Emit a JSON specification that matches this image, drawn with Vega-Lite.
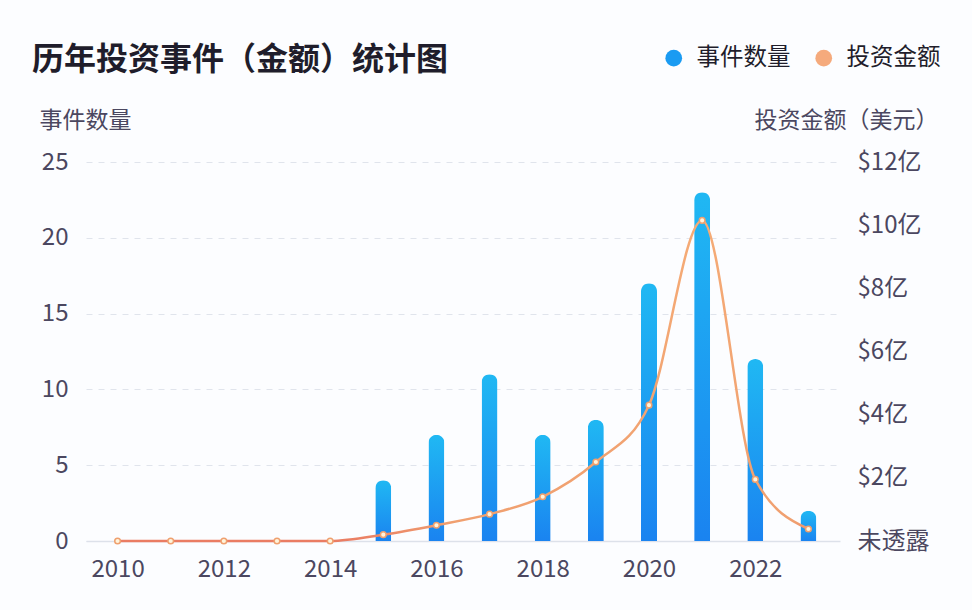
{
  "$schema": "https://vega.github.io/schema/vega-lite/v6.json",
  "width": 754,
  "height": 379,
  "autosize": {"type": "none"},
  "padding": {"left": 86, "top": 162, "right": 132, "bottom": 69},
  "background": "#fcfdff",
  "config": {
    "font": "Noto Sans CJK SC",
    "view": {"stroke": null}
  },
  "title": {
    "text": "历年投资事件（金额）统计图",
    "anchor": "start",
    "frame": "group",
    "dx": -54,
    "offset": -31,
    "fontSize": 32,
    "fontWeight": "bold",
    "color": "#1f1d2b",
    "font": "Noto Sans CJK SC"
  },
  "data": {
    "values": [
      {"year": 2010, "count": 0, "amount": 0},
      {"year": 2011, "count": 0, "amount": 0},
      {"year": 2012, "count": 0, "amount": 0},
      {"year": 2013, "count": 0, "amount": 0},
      {"year": 2014, "count": 0, "amount": 0},
      {"year": 2015, "count": 4, "amount": 0.2},
      {"year": 2016, "count": 7, "amount": 0.5},
      {"year": 2017, "count": 11, "amount": 0.85},
      {"year": 2018, "count": 7, "amount": 1.4},
      {"year": 2019, "count": 8, "amount": 2.5},
      {"year": 2020, "count": 17, "amount": 4.3},
      {"year": 2021, "count": 23, "amount": 10.15},
      {"year": 2022, "count": 12, "amount": 1.95},
      {"year": 2023, "count": 2, "amount": 0.38}
    ]
  },
  "layer": [
    {
      "transform": [{"filter": "datum.count > 0"}],
      "mark": {
        "type": "bar",
        "width": 16,
        "cornerRadiusTopLeft": 8,
        "cornerRadiusTopRight": 8,
        "color": {
          "gradient": "linear",
          "x1": 0, "y1": 0, "x2": 0, "y2": 1,
          "stops": [
            {"offset": 0, "color": "#20b8f3"},
            {"offset": 1, "color": "#1a83f0"}
          ]
        }
      },
      "encoding": {
        "x": {
          "field": "year",
          "type": "quantitative",
          "scale": {"domain": [2009.5, 2023.5], "nice": false, "zero": false},
          "axis": {
            "title": null,
            "values": [2010, 2012, 2014, 2016, 2018, 2020, 2022],
            "format": "d",
            "labelFontSize": 24,
            "labelColor": "#4b4760",
            "labelPadding": 16,
            "ticks": false,
            "grid": false,
            "domain": true,
            "domainColor": "#dde1ea",
            "domainWidth": 1.5
          }
        },
        "y": {
          "field": "count",
          "type": "quantitative",
          "scale": {"domain": [0, 25], "nice": false},
          "axis": {
            "orient": "left",
            "title": "事件数量",
            "titleAngle": 0,
            "titleAlign": "left",
            "titleBaseline": "middle",
            "titleX": -47,
            "titleY": -42,
            "titleFontSize": 23,
            "titleFontWeight": "normal",
            "titleColor": "#4b4760",
            "values": [0, 5, 10, 15, 20, 25],
            "labelFontSize": 24,
            "labelColor": "#4b4760",
            "labelPadding": 18,
            "ticks": false,
            "domain": false,
            "grid": true,
            "gridDash": [6, 6],
            "gridColor": "#e0e4ec"
          }
        }
      }
    },
    {
      "mark": {
        "type": "line",
        "interpolate": "monotone",
        "strokeWidth": 2.5,
        "color": {
          "gradient": "linear",
          "x1": 0, "y1": 1, "x2": 0, "y2": 0,
          "stops": [
            {"offset": 0, "color": "#ea7c63"},
            {"offset": 0.06, "color": "#f0a070"},
            {"offset": 1, "color": "#f5ab76"}
          ]
        },
        "point": {
          "filled": true,
          "fill": "#fff4dc",
          "stroke": "#efa06f",
          "strokeWidth": 1.5,
          "size": 32
        }
      },
      "encoding": {
        "x": {"field": "year", "type": "quantitative"},
        "y": {
          "field": "amount",
          "type": "quantitative",
          "scale": {"domain": [0, 12], "nice": false},
          "axis": {
            "orient": "right",
            "title": "投资金额（美元）",
            "titleAngle": 0,
            "titleAlign": "right",
            "titleBaseline": "middle",
            "titleX": 98,
            "titleY": -42,
            "titleFontSize": 23,
            "titleFontWeight": "normal",
            "titleColor": "#4b4760",
            "values": [0, 2, 4, 6, 8, 10, 12],
            "labelExpr": "datum.value == 0 ? '未透露' : '$' + datum.value + '亿'",
            "labelFontSize": 24,
            "labelColor": "#4b4760",
            "labelPadding": 17,
            "ticks": false,
            "domain": false,
            "grid": false
          }
        }
      }
    },
    {
      "data": {"values": [{"s": "事件数量"}, {"s": "投资金额"}]},
      "mark": {"type": "point", "filled": true, "opacity": 0},
      "encoding": {
        "color": {
          "field": "s",
          "type": "nominal",
          "scale": {"domain": ["事件数量", "投资金额"], "range": ["#1a9bf2", "#f5aa7c"]},
          "legend": {
            "title": null,
            "orient": "none",
            "legendX": 576,
            "legendY": -116,
            "direction": "horizontal",
            "symbolType": "circle",
            "symbolSize": 280,
            "symbolOpacity": 1,
            "symbolStrokeWidth": 0,
            "labelFontSize": 23.5,
            "labelColor": "#1f1d2b",
            "labelOffset": 11,
            "columnPadding": 21
          }
        }
      }
    }
  ],
  "resolve": {"scale": {"y": "independent"}}
}
